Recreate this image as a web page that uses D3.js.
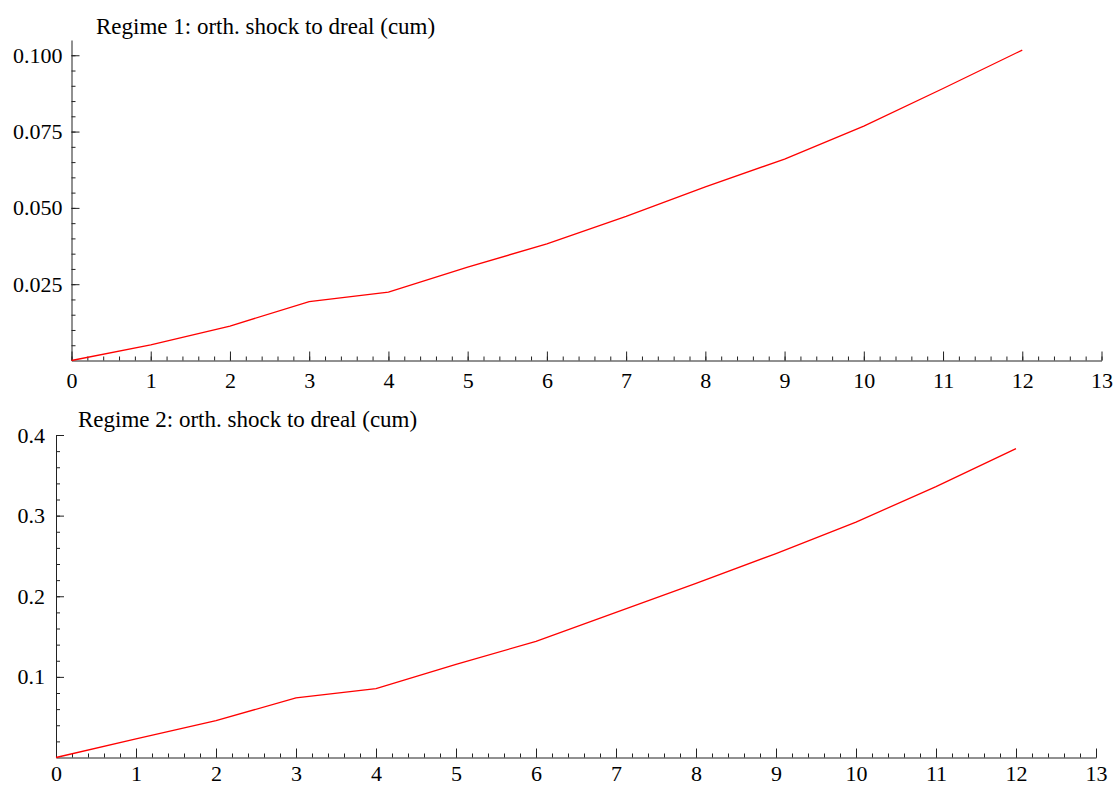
<!DOCTYPE html>
<html>
<head>
<meta charset="utf-8">
<script src="https://cdnjs.cloudflare.com/ajax/libs/d3/7.8.5/d3.min.js"></script>
<style>
body { margin: 0; background: white; }
text { font-family: "Liberation Serif", "Times New Roman", serif; fill: black; }
</style>
</head>
<body>
<div id="divForChart"></div>
<script>
// horizons (shared by both panels)
var steps = [0, 1, 2, 3, 4, 5, 6, 7, 8, 9, 10, 11, 12];
// cumulative responses
var regime1 = [0, 0.0051, 0.0113, 0.0193, 0.0224, 0.0306, 0.0382, 0.0472, 0.0569, 0.0660, 0.0768, 0.0891, 0.1017];
var regime2 = [0, 0.0231, 0.0458, 0.0739, 0.0854, 0.1155, 0.1440, 0.1800, 0.2160, 0.2530, 0.2920, 0.3360, 0.3830];
var titles = ["Regime 1: orth. shock to dreal (cum)", "Regime 2: orth. shock to dreal (cum)"];
var xTicks = [0, 1, 2, 3, 4, 5, 6, 7, 8, 9, 10, 11, 12, 13];
var yTicks1 = [0.025, 0.05, 0.075, 0.1];
var yTickLabels1 = ["0.025", "0.050", "0.075", "0.100"];
var yTicks2 = [0.1, 0.2, 0.3, 0.4];
var yTickLabels2 = ["0.1", "0.2", "0.3", "0.4"];

var svgWidth = 1115;
var svgHeight = 785;
var tickFont = 22;
var titleFont = 23;

var svg = d3.select("#divForChart").append("svg")
	.attr('width', svgWidth)
	.attr('height', svgHeight)
	.attr('id', 'chartSVG');

function drawPanel(opt)
{
	var g = svg.append("g").attr('id', opt.id);

	var x = d3.scaleLinear().domain([0, 13]).range([opt.left, opt.right]);
	var y = d3.scaleLinear().domain([0, opt.yMax]).range([opt.bottom, opt.top]);

	// minor x ticks, every 0.2
	g.append("g")
		.attr('transform', 'translate(0,' + opt.bottom + ')')
		.call(d3.axisBottom(x).tickValues(d3.range(0, 13.01, 0.2)).tickSize(-4).tickSizeOuter(0).tickFormat(""))
		.call(function(a) { a.select(".domain").remove(); });

	// major x ticks and labels
	g.append("g")
		.attr('class', 'xAxis')
		.attr('transform', 'translate(0,' + opt.bottom + ')')
		.call(d3.axisBottom(x).tickValues(xTicks).tickSize(-9).tickSizeOuter(0).tickPadding(opt.xPad).tickFormat(d3.format("d")));

	// minor y ticks
	g.append("g")
		.attr('transform', 'translate(' + opt.left + ',0)')
		.call(d3.axisLeft(y).tickValues(d3.range(opt.minorStep, opt.yMaxTick + opt.minorStep / 2, opt.minorStep)).tickSize(-4).tickSizeOuter(0).tickFormat(""))
		.call(function(a) { a.select(".domain").remove(); });

	// major y ticks and labels
	g.append("g")
		.attr('class', 'yAxis')
		.attr('transform', 'translate(' + opt.left + ',0)')
		.call(d3.axisLeft(y).tickValues(opt.yTicks).tickSize(-8).tickSizeOuter(0).tickPadding(opt.yPad)
			.tickFormat(function(d, i) { return opt.yLabels[i]; }));

	g.selectAll(".tick line").attr('stroke', '#222');
	g.selectAll(".domain").attr('stroke', '#222');
	g.selectAll(".tick text")
		.style('font-family', '"Liberation Serif", "Times New Roman", serif')
		.style('font-size', tickFont + 'px')
		.attr('fill', 'black');

	g.append("text")
		.text(opt.title)
		.attr('x', opt.titleX)
		.attr('y', opt.titleY)
		.style('font-size', titleFont + 'px');

	var line = d3.line()
		.x(function(d, i) { return x(steps[i]); })
		.y(function(d) { return y(d); });

	g.append("path")
		.datum(opt.values)
		.attr('d', line)
		.attr('fill', 'none')
		.attr('stroke', '#ff0000')
		.attr('stroke-width', 1.3);
}

drawPanel({
	id: 'panel1', title: titles[0], values: regime1,
	left: 71.5, right: 1101.5, top: 40, bottom: 360.5,
	yMax: 0.105, yMaxTick: 0.1, minorStep: 0.005,
	yTicks: yTicks1, yLabels: yTickLabels1,
	xPad: 12, yPad: 9, titleX: 96, titleY: 34
});

drawPanel({
	id: 'panel2', title: titles[1], values: regime2,
	left: 56, right: 1096, top: 435, bottom: 757.5,
	yMax: 0.4, yMaxTick: 0.4, minorStep: 0.02,
	yTicks: yTicks2, yLabels: yTickLabels2,
	xPad: 8, yPad: 11, titleX: 78, titleY: 427
});
</script>
</body>
</html>
